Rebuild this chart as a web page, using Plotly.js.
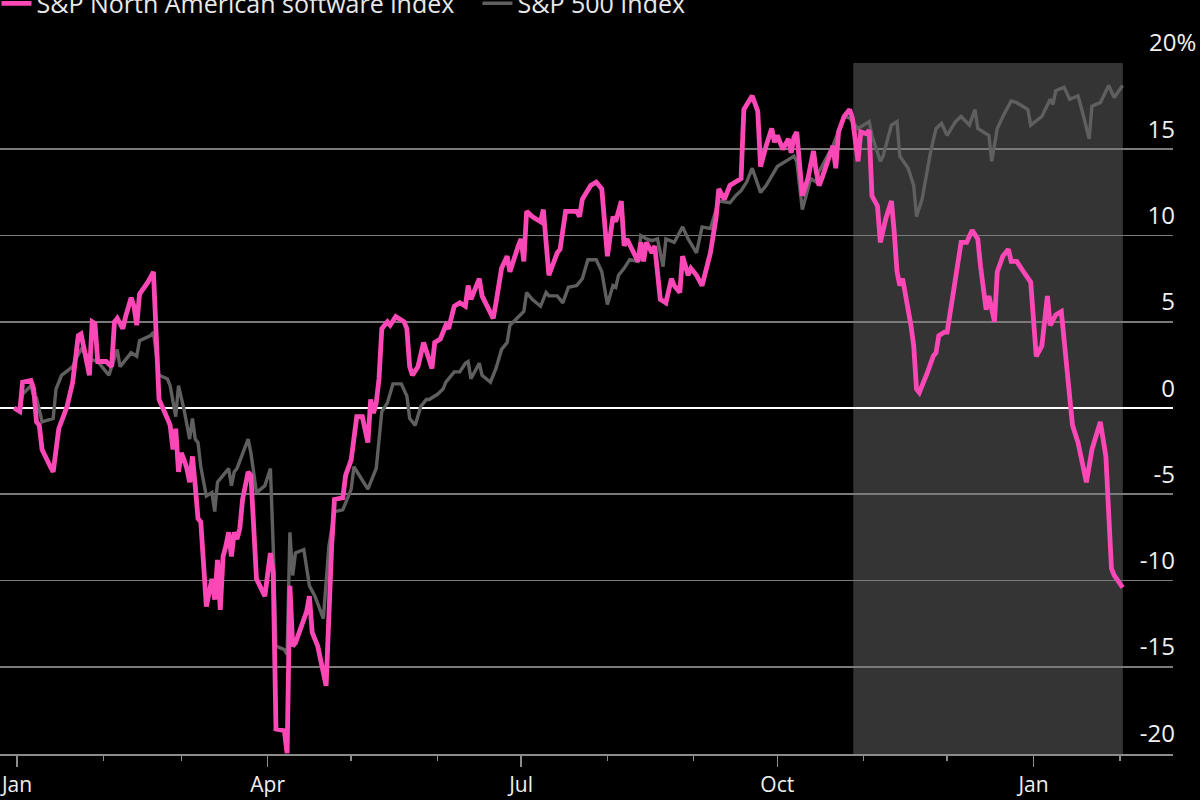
<!DOCTYPE html>
<html>
<head>
<meta charset="utf-8">
<script src="https://cdn.plot.ly/plotly-3.0.1.min.js"></script>
<style>
  html, body { margin: 0; padding: 0; background: #000; }
  #chart { width: 1200px; height: 800px; }
</style>
</head>
<body>
<div id="chart"></div>
<script>
// ---- Data (percent change since start of 2025) ----
const seriesNames = ['S&P North American software index', 'S&P 500 Index'];

const softwareDates = [
'2024-12-31','2025-01-02','2025-01-03','2025-01-06','2025-01-07','2025-01-08','2025-01-09','2025-01-10','2025-01-13','2025-01-14',
'2025-01-16','2025-01-17','2025-01-19','2025-01-21','2025-01-23','2025-01-24','2025-01-27','2025-01-28','2025-01-29','2025-01-30',
'2025-02-02','2025-02-04','2025-02-05','2025-02-06','2025-02-08','2025-02-09','2025-02-11','2025-02-12','2025-02-13','2025-02-14',
'2025-02-17','2025-02-19','2025-02-20','2025-02-21','2025-02-24','2025-02-25','2025-02-26','2025-02-27','2025-02-28','2025-03-01',
'2025-03-02','2025-03-03','2025-03-04','2025-03-05','2025-03-06','2025-03-07','2025-03-08','2025-03-10','2025-03-11','2025-03-12',
'2025-03-13','2025-03-14','2025-03-15','2025-03-16','2025-03-17','2025-03-18','2025-03-19','2025-03-20','2025-03-21','2025-03-22',
'2025-03-23','2025-03-25','2025-03-26','2025-03-28','2025-03-31','2025-04-02','2025-04-03','2025-04-04','2025-04-07','2025-04-08',
'2025-04-09','2025-04-10','2025-04-11','2025-04-13','2025-04-15','2025-04-16','2025-04-17','2025-04-19','2025-04-22','2025-04-24',
'2025-04-25','2025-04-28','2025-04-29','2025-05-01','2025-05-02','2025-05-03','2025-05-05','2025-05-07','2025-05-08','2025-05-09',
'2025-05-10','2025-05-11','2025-05-12','2025-05-14','2025-05-15','2025-05-17','2025-05-20','2025-05-21','2025-05-22','2025-05-23',
'2025-05-25','2025-05-27','2025-05-29','2025-05-30','2025-05-31','2025-06-02','2025-06-04','2025-06-05','2025-06-07','2025-06-09',
'2025-06-11','2025-06-12','2025-06-13','2025-06-16','2025-06-17','2025-06-21','2025-06-22','2025-06-24','2025-06-26','2025-06-27',
'2025-06-30','2025-07-01','2025-07-02','2025-07-03','2025-07-05','2025-07-08','2025-07-09','2025-07-10','2025-07-11','2025-07-14',
'2025-07-15','2025-07-17','2025-07-21','2025-07-22','2025-07-23','2025-07-26','2025-07-28','2025-07-30','2025-08-01','2025-08-03',
'2025-08-04','2025-08-06','2025-08-07','2025-08-08','2025-08-10','2025-08-12','2025-08-13','2025-08-14','2025-08-15','2025-08-17',
'2025-08-18','2025-08-20','2025-08-22','2025-08-24','2025-08-25','2025-08-27','2025-08-28','2025-08-30','2025-08-31','2025-09-02',
'2025-09-04','2025-09-07','2025-09-09','2025-09-10','2025-09-12','2025-09-14','2025-09-16','2025-09-18','2025-09-19','2025-09-21',
'2025-09-22','2025-09-24','2025-09-25','2025-09-27','2025-09-29','2025-09-30','2025-10-01','2025-10-03','2025-10-05','2025-10-06',
'2025-10-07','2025-10-08','2025-10-09','2025-10-10','2025-10-12','2025-10-14','2025-10-15','2025-10-16','2025-10-17','2025-10-19',
'2025-10-21','2025-10-22','2025-10-23','2025-10-25','2025-10-27','2025-10-28','2025-10-30','2025-10-31','2025-11-02','2025-11-03',
'2025-11-04','2025-11-06','2025-11-07','2025-11-09','2025-11-11','2025-11-12','2025-11-13','2025-11-14','2025-11-15','2025-11-18',
'2025-11-19','2025-11-20','2025-11-21','2025-11-24','2025-11-26','2025-11-27','2025-11-28','2025-11-30','2025-12-01','2025-12-04',
'2025-12-06','2025-12-08','2025-12-10','2025-12-12','2025-12-13','2025-12-15','2025-12-16','2025-12-18','2025-12-19','2025-12-21',
'2025-12-23','2025-12-24','2025-12-26','2025-12-28','2025-12-31','2026-01-02','2026-01-04','2026-01-06','2026-01-07','2026-01-09',
'2026-01-11','2026-01-13','2026-01-15','2026-01-17','2026-01-20','2026-01-22','2026-01-25','2026-01-27','2026-01-29','2026-01-30',
'2026-02-02'
];
const softwareValues = [
0,-0.2,1.5,1.6,1.1,-0.8,-1.0,-2.4,-3.4,-3.7,
-1.2,-0.8,0.1,1.5,4.2,4.3,1.9,5.0,4.9,2.7,
2.7,2.4,5.0,5.2,4.6,5.3,6.4,5.9,4.8,6.6,
7.3,7.9,4.2,0.5,-0.6,-1.0,-2.4,-1.2,-3.7,-2.6,
-3.0,-3.5,-4.3,-2.8,-4.5,-6.4,-6.6,-11.5,-10.7,-9.9,
-11.1,-8.8,-11.7,-8.6,-8.0,-7.2,-8.6,-7.2,-7.6,-7.0,
-5.3,-3.7,-3.9,-9.9,-10.9,-8.4,-9.5,-18.6,-18.7,-20.0,
-10.3,-13.8,-13.6,-12.6,-11.8,-10.9,-13.0,-13.8,-16.1,-8.0,
-5.3,-5.2,-3.9,-3.0,-1.6,-0.5,-0.5,-2.0,0.5,-0.3,
0.3,1.7,4.6,5.0,4.8,5.3,5.0,4.6,2.4,1.9,
2.4,3.8,2.8,2.3,3.8,4.0,4.8,4.6,5.9,6.1,
5.9,7.1,6.3,7.5,6.5,5.2,6.1,8.1,8.8,7.9,
9.4,9.8,8.5,11.4,11.1,10.8,11.5,9.6,7.7,9.0,
9.2,11.4,11.4,11.1,12.1,12.9,13.1,12.7,8.8,11.1,
10.8,12.0,9.4,9.8,9.1,8.5,9.6,8.5,9.6,9.0,
9.4,6.3,6.1,7.5,7.1,6.7,8.8,7.7,8.1,7.7,
7.1,9.0,11.0,12.7,12.1,12.9,13.1,13.3,17.3,17.9,
18.1,17.2,14.0,15.2,16.2,15.4,15.8,15.0,15.6,14.8,
15.7,16.0,14.4,12.3,13.3,14.9,13.7,12.9,13.3,14.3,
15.2,13.9,16.0,16.9,17.3,16.8,14.3,16.0,15.9,16.1,
12.3,11.7,9.6,11.0,12.0,10.2,7.9,7.1,7.5,4.8,
3.6,1.1,0.9,2.1,3.0,3.2,4.2,4.4,4.4,7.5,
9.6,9.6,10.3,9.8,8.2,5.7,6.5,5.0,7.9,8.8,
9.2,8.5,8.5,8.0,7.3,3.0,3.6,6.5,4.8,5.4,
5.6,2.3,-1.0,-2.0,-4.3,-2.4,-0.8,-2.8,-9.3,-9.7,
-10.4
];

const spxDates = [
'2024-12-31','2025-01-02','2025-01-03','2025-01-06','2025-01-07','2025-01-08','2025-01-10','2025-01-14','2025-01-15','2025-01-17',
'2025-01-21','2025-01-22','2025-01-24','2025-01-28','2025-01-30','2025-02-03','2025-02-06','2025-02-07','2025-02-11','2025-02-13',
'2025-02-14','2025-02-18','2025-02-19','2025-02-21','2025-02-24','2025-02-25','2025-02-27','2025-02-28','2025-03-02','2025-03-04',
'2025-03-05','2025-03-06','2025-03-07','2025-03-08','2025-03-10','2025-03-12','2025-03-13','2025-03-14','2025-03-16','2025-03-18',
'2025-03-19','2025-03-20','2025-03-21','2025-03-23','2025-03-25','2025-03-26','2025-03-28','2025-03-31','2025-04-02','2025-04-03',
'2025-04-04','2025-04-07','2025-04-08','2025-04-09','2025-04-10','2025-04-11','2025-04-14','2025-04-16','2025-04-18','2025-04-21',
'2025-04-23','2025-04-25','2025-04-28','2025-05-01','2025-05-02','2025-05-07','2025-05-09','2025-05-10','2025-05-12','2025-05-14',
'2025-05-16','2025-05-19','2025-05-21','2025-05-22','2025-05-24','2025-05-26','2025-05-28','2025-05-29','2025-06-01','2025-06-03',
'2025-06-04','2025-06-07','2025-06-09','2025-06-11','2025-06-12','2025-06-13','2025-06-16','2025-06-17','2025-06-20','2025-06-22',
'2025-06-24','2025-06-26','2025-06-27','2025-06-30','2025-07-02','2025-07-03','2025-07-05','2025-07-08','2025-07-10','2025-07-11',
'2025-07-14','2025-07-16','2025-07-18','2025-07-21','2025-07-23','2025-07-25','2025-07-28','2025-07-30','2025-08-01','2025-08-03',
'2025-08-04','2025-08-05','2025-08-07','2025-08-09','2025-08-12','2025-08-13','2025-08-15','2025-08-17','2025-08-19','2025-08-21',
'2025-08-22','2025-08-25','2025-08-28','2025-08-30','2025-09-02','2025-09-04','2025-09-07','2025-09-10','2025-09-14','2025-09-16',
'2025-09-18','2025-09-20','2025-09-22','2025-09-25','2025-09-27','2025-10-01','2025-10-05','2025-10-07','2025-10-08','2025-10-10',
'2025-10-13','2025-10-15','2025-10-16','2025-10-19','2025-10-21','2025-10-25','2025-10-27','2025-10-30','2025-11-01','2025-11-03',
'2025-11-04','2025-11-07','2025-11-08','2025-11-11','2025-11-13','2025-11-14','2025-11-17','2025-11-19','2025-11-20','2025-11-22',
'2025-11-25','2025-11-27','2025-11-29','2025-12-01','2025-12-04','2025-12-06','2025-12-09','2025-12-11','2025-12-12','2025-12-14',
'2025-12-16','2025-12-17','2025-12-19','2025-12-21','2025-12-24','2025-12-26','2025-12-30','2025-12-31','2026-01-04','2026-01-07',
'2026-01-08','2026-01-09','2026-01-12','2026-01-14','2026-01-17','2026-01-19','2026-01-21','2026-01-22','2026-01-25','2026-01-28',
'2026-01-30','2026-02-02'
];
const spxValues = [
0,-0.2,0.8,1.3,0.7,0.6,-0.8,-0.6,1.1,1.9,
2.4,2.8,3.4,2.8,2.7,1.9,3.4,2.4,3.2,3.0,
3.9,4.2,4.4,1.9,1.7,1.3,-0.5,1.3,-0.1,-1.8,
-0.6,-1.8,-2.0,-3.4,-5.1,-4.9,-6.0,-4.3,-3.9,-3.5,
-4.5,-3.7,-3.5,-2.6,-1.8,-2.6,-4.9,-4.5,-3.5,-8.0,
-13.8,-14.0,-14.3,-7.2,-9.7,-8.4,-8.2,-10.3,-10.9,-12.2,
-8.0,-6.0,-5.9,-4.7,-3.4,-4.7,-3.9,-3.5,-0.2,0.3,
1.4,1.4,0.7,-0.6,-1.0,0.1,0.5,0.5,0.8,1.1,
1.5,2.1,2.1,2.6,2.7,1.7,2.6,1.9,1.5,2.3,
3.4,3.8,4.8,5.3,5.6,6.7,6.3,5.9,6.7,6.5,
6.5,6.1,7.0,7.1,7.5,8.6,8.6,7.9,6.0,7.1,
7.0,7.7,8.1,8.6,8.5,10.0,9.8,9.7,9.8,8.2,
9.8,9.6,10.5,9.8,9.0,10.5,10.4,12.0,11.9,12.3,
12.6,13.1,13.9,12.5,12.9,14.0,14.4,14.6,14.3,11.5,
13.3,13.1,13.7,14.6,15.2,16.9,16.8,16.2,16.4,16.6,
15.8,14.3,14.6,16.4,16.6,14.6,13.9,12.9,11.1,12.1,
14.8,16.2,16.5,15.8,16.6,16.9,16.4,17.3,16.2,16.0,
15.8,14.3,16.2,16.9,17.8,17.7,17.3,16.4,16.9,17.9,
17.6,18.4,18.6,17.9,18.1,16.9,15.6,17.5,17.7,18.7,
18.0,18.7
];

// highlighted period (software sell-off)
const shadeStart = '2025-10-28 07:00';
const shadeEnd = '2026-02-02 02:00';

const yTickValues = [-20, -15, -10, -5, 0, 5, 10, 15, 20];
const yTickLabels = ['-20', '-15', '-10', '-5', '0', '5', '10', '15', ''];
const topTickLabel = '20%';

const xRange = ['2024-12-25 21:36', '2026-02-20 02:24'];
const yRange = [-20.05, 20];

// ---- Chart ----
const PINK = '#fb48b6';
const GREY = '#5f5f5f';
const TEXT = '#f0f0f0';
const FONT = 'Open Sans, Noto Sans, sans-serif';

const traces = [
  {
    type: 'scatter', mode: 'lines', name: seriesNames[1],
    x: spxDates, y: spxValues,
    line: { color: GREY, width: 3.4 },
    hoverinfo: 'skip'
  },
  {
    type: 'scatter', mode: 'lines', name: seriesNames[0],
    x: softwareDates, y: softwareValues,
    line: { color: PINK, width: 4.8 },
    hoverinfo: 'skip'
  }
];

const layout = {
  width: 1200, height: 800,
  paper_bgcolor: '#000000', plot_bgcolor: '#000000',
  margin: { l: 0, r: 27, t: 63, b: 46, pad: 0, autoexpand: false },
  font: { family: FONT, color: TEXT },
  showlegend: true,
  legend: {
    orientation: 'h', traceorder: 'reversed',
    x: -0.003, xanchor: 'left', y: 1.086, yanchor: 'middle',
    font: { family: FONT, size: 25, color: '#e8e8e8' },
    bgcolor: 'rgba(0,0,0,0)', itemwidth: 30,
    entrywidth: 436, entrywidthmode: 'pixels'
  },
  xaxis: {
    type: 'date', range: xRange,
    showgrid: false, zeroline: false,
    showline: true, linecolor: '#8c8c8c', linewidth: 1.5,
    ticks: 'outside', ticklen: 11, tickwidth: 1.5, tickcolor: '#8c8c8c',
    tick0: '2025-01-01', dtick: 'M3', tickformat: '%b',
    ticklabeloverflow: 'allow',
    tickfont: { family: FONT, size: 21, color: TEXT },
    minor: { dtick: 'M1', ticks: 'outside', ticklen: 5, tickwidth: 1.5, tickcolor: '#8c8c8c', showgrid: false },
    fixedrange: true
  },
  yaxis: {
    side: 'right', range: yRange,
    tickmode: 'array', tickvals: yTickValues, ticktext: yTickLabels,
    ticks: '', showline: false,
    showgrid: true, gridcolor: '#7a7a7a', gridwidth: 1.8,
    zeroline: true, zerolinecolor: '#ffffff', zerolinewidth: 2.2,
    ticklabelposition: 'inside top', ticklabeloverflow: 'allow',
    ticklabelstandoff: -5, ticklabelshift: -3,
    tickfont: { family: FONT, size: 24, color: TEXT },
    fixedrange: true
  },
  shapes: [
    { type: 'rect', xref: 'x', yref: 'paper', x0: shadeStart, x1: shadeEnd, y0: 0, y1: 1,
      fillcolor: '#343434', line: { width: 0 }, layer: 'below' }
  ],
  annotations: [
    { text: topTickLabel, xref: 'paper', x: 1, xanchor: 'right', xshift: 25,
      yref: 'y', y: yTickValues[yTickValues.length - 1], yanchor: 'bottom', yshift: 3,
      showarrow: false, font: { family: FONT, size: 24, color: TEXT } }
  ]
};

Plotly.newPlot('chart', traces, layout, { displayModeBar: false, staticPlot: true });
</script>
</body>
</html>
